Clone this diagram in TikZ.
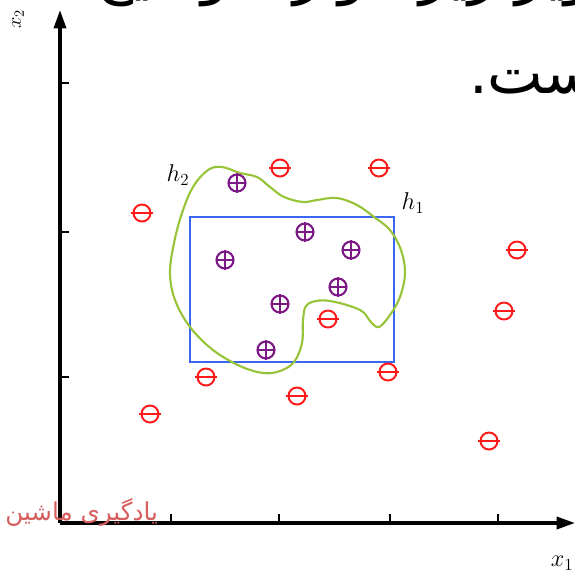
\documentclass[tikz,border=0pt]{standalone}
\usepackage{fontspec}
\usetikzlibrary{arrows.meta}
\TeXXeTstate=1
\newfontfamily\arabicfont[Script=Arabic]{DejaVu Sans}
\definecolor{hblue}{RGB}{59,102,240}
\definecolor{hgreen}{RGB}{150,195,55}
\definecolor{negred}{RGB}{255,25,25}
\definecolor{pospurple}{RGB}{125,25,135}
\definecolor{markred}{RGB}{214,94,94}
\tikzset{
  axis/.style={line width=2.4pt,-{Triangle[length=13pt,width=8.5pt]}},
  tick/.style={line width=1.6pt},
  negmark/.style={negred,line width=1.4pt},
  posmark/.style={pospurple,line width=1.5pt},
  hlabel/.style={font=\LARGE},
  slidetext/.style={anchor=base west,inner sep=0,font=\arabicfont\fontsize{42}{46}\selectfont},
}
\begin{document}
\begin{tikzpicture}[x=0.025cm,y=-0.025cm]
\useasboundingbox (0,0) rectangle (575,575);
\clip (0,0) rectangle (575,575);

% slide text, cut at the top
\node[slidetext] (line1) at (95,-8) {\beginR در تصویر زیر موارد توضیح\endR};
\node[slidetext,anchor=base east] (line2) at (612,93) {\beginR است.\endR};

% axes
\coordinate (o) at (60,523);
\coordinate (xend) at (575,523);
\coordinate (yend) at (60,10);
\draw[axis] (o) -- (xend);
\draw[axis] (o) -- (yend);

\foreach \x in {171,279,390,498}
  \draw[tick] (\x,523) -- (\x,514);
\foreach \y in {83,232,377}
  \draw[tick] (60,\y) -- (69,\y);

\node[rotate=90,font=\Large] (x2) at (18,19) {$x_2$};
\node[font=\LARGE] (x1) at (562,563) {$x_1$};

% hypotheses
\draw[hblue,line width=2pt] (190,217) rectangle (394,362);
\node[hlabel] (h1) at (413,203) {$h_1$};

\draw[hgreen,line width=1.5pt] plot[smooth cycle,tension=0.6] coordinates {
  (208,170) (222,167) (240,173) (257,177) (270,187) (284,197) (303,202)
  (317,200) (337,198) (357,205) (374,217) (390,230) (401,250) (405,273)
  (400,297) (390,315) (379,327) (371,322) (363,312) (350,306) (330,301)
  (316,301) (306,306) (303,320) (302,343) (294,362) (280,371) (263,373)
  (240,366) (213,350) (190,327) (175,300) (170,273) (174,243) (182,213)
  (193,187)};
\node[hlabel] (h2) at (178,175) {$h_2$};

% negative examples
\foreach \x/\y in {280/168,379/168,142/213,517/250,504/311,328/319,
                   206/377,388/372,297/396,150/414,489/441}{
  \draw[negmark] (\x,\y) circle [radius=8.5];
  \draw[negmark] (\x-11,\y) -- (\x+11,\y);
}

% positive examples
\foreach \x/\y in {237/183,305/232,351/250,225/260,338/287,280/304,266/350}{
  \draw[posmark] (\x,\y) circle [radius=8.5];
  \draw[posmark] (\x-9,\y) -- (\x+9,\y);
  \draw[posmark] (\x,\y-10) -- (\x,\y+10);
}

% watermark
\node[anchor=base west,inner sep=0,text=markred,font=\arabicfont\fontsize{17.5}{20}\selectfont] (mark) at (5,520) {\beginR یادگیری ماشین\endR};
\end{tikzpicture}
\end{document}
